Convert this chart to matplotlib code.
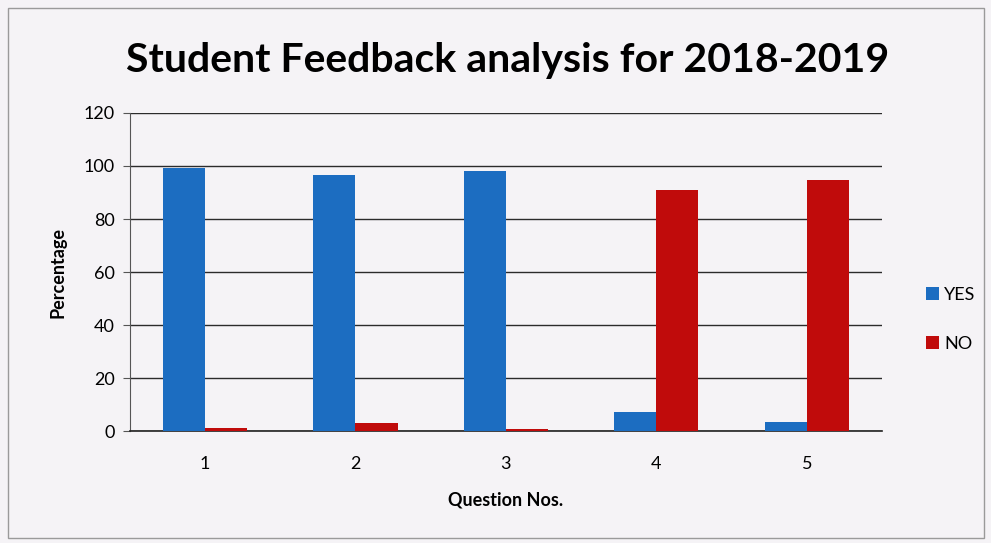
import numpy as np
import matplotlib
matplotlib.use("Agg")
import matplotlib.pyplot as plt
from matplotlib.patches import Rectangle

# data
questions = ["1", "2", "3", "4", "5"]
yes_pct = [99.1, 96.6, 98.1, 7.3, 3.5]
no_pct = [1.2, 2.9, 0.7, 90.9, 94.6]

plt.rcParams['font.family'] = ['Lato', 'DejaVu Sans']

blue = "#1c6dc1"
red = "#c00b0b"
bg = "#f5f3f6"

fig = plt.figure(figsize=(9.91, 5.43), dpi=100, facecolor=bg)
ax = fig.add_axes([0.131, 0.206, 0.759, 0.586], facecolor=bg)

x = np.arange(len(questions))
w = 0.28
ax.bar(x - w / 2, yes_pct, w, color=blue, label="YES", zorder=3)
ax.bar(x + w / 2, no_pct, w, color=red, label="NO", zorder=3)

ax.set_xlim(-0.5, len(questions) - 0.5)
ax.set_ylim(0, 120)
ax.set_yticks(range(0, 121, 20))
ax.set_xticks(x)
ax.set_xticklabels(questions)
ax.yaxis.grid(True, color="#2b2b2b", linewidth=1.0, zorder=0)

for s in ["top", "right"]:
    ax.spines[s].set_visible(False)
ax.spines["left"].set_color("#555555")
ax.spines["bottom"].set_color("#222222")
ax.spines["bottom"].set_linewidth(1.2)
ax.tick_params(axis="y", labelsize=13, length=5, color="#555555", pad=6)
ax.tick_params(axis="x", labelsize=13, length=0, pad=18)

ax.set_ylabel("Percentage", fontsize=13, fontweight="bold", labelpad=12)
ax.set_xlabel("Question Nos.", fontsize=13, fontweight="bold", labelpad=14)
fig.text(0.512, 0.888, "Student Feedback analysis for 2018-2019",
         ha="center", va="center", fontsize=29.5, fontweight="bold")

fig.legend(loc="center left", bbox_to_anchor=(0.918, 0.412), frameon=False,
           fontsize=13, handlelength=0.7, handleheight=0.7, handletextpad=0.3,
           labelspacing=1.8)

# outer chart frame
fig.patches.append(Rectangle((0.008, 0.01), 0.985, 0.975, transform=fig.transFigure,
                             fill=False, edgecolor="#9a9a9a", linewidth=1.0))

fig.savefig("out.png", dpi=100, facecolor=bg)
